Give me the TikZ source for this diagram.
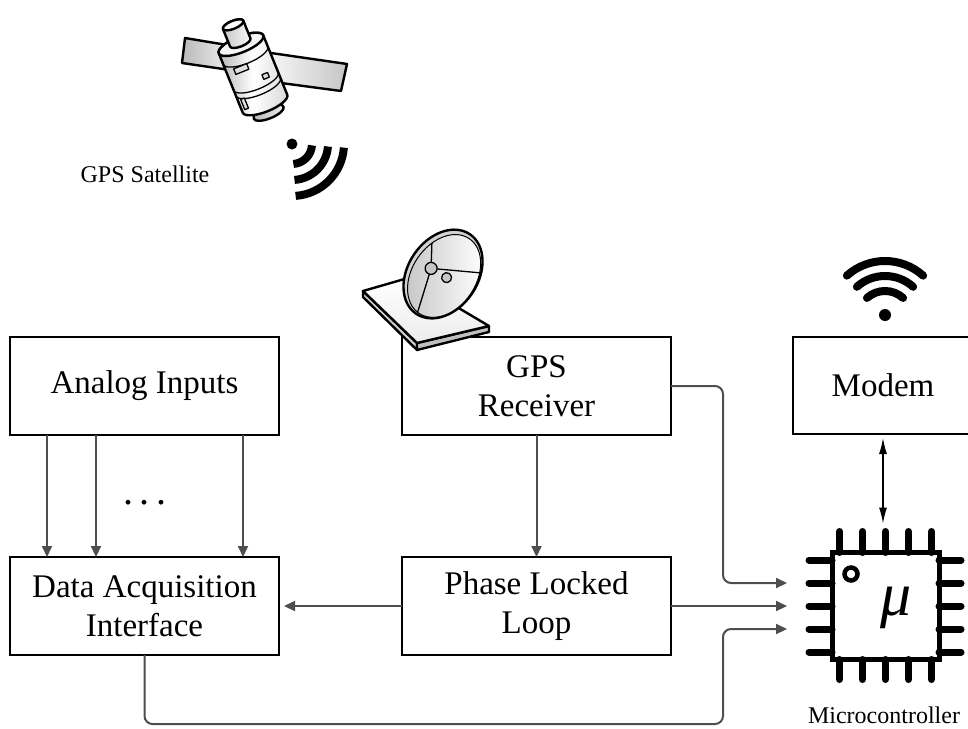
\documentclass[tikz,border=0pt]{standalone}
\usepackage{fontspec}
\setmainfont{Liberation Serif}
\usetikzlibrary{arrows.meta}
\definecolor{wirecol}{RGB}{78,78,78}
\begin{document}
\begin{tikzpicture}[x=1pt,y=-1pt,
  block/.style={draw=black, line width=2.4pt, minimum width=269pt, minimum height=98pt,
    align=center, inner sep=0pt, outer sep=0pt, font=\fontsize{33}{39.5}\selectfont},
  wire/.style={draw=wirecol, line width=2pt, -{Triangle[length=11pt,width=10pt]}},
  duplex/.style={draw=black, line width=1.3pt,
    {Latex[length=16pt,width=8pt]}-{Latex[length=16pt,width=8pt]}},
  pin/.style={line width=7pt, line cap=round},
  icon/.style={draw=black, line width=2.4pt, line join=round},
  thin icon/.style={draw=black, line width=1.3pt, line join=round},
  smalltext/.style={font=\fontsize{24}{28}\selectfont, inner sep=0pt}
]
\useasboundingbox (0,0) rectangle (968,728);
\clip (0,0) rectangle (968,728);

% ---------- blocks ----------
\node[block] (analog) at (144.5,386) {Analog Inputs};
\node[block] (daq) at (144.5,606) {Data Acquisition\\Interface};
\node[block] (gps) at (536.5,386) {GPS\\Receiver};
\node[block] (pll) at (536.5,606) {Phase Locked\\Loop};
\node[block, minimum width=180pt, minimum height=97pt] (modem) at (883,385.5) {Modem};

\node[font=\fontsize{40}{44}\selectfont, anchor=base, inner sep=0pt] (dots) at (144.5,504)
  {.\kern6.5pt.\kern6.5pt.};

% ---------- microcontroller chip ----------
\node[draw=black, line width=5pt, minimum size=107pt, inner sep=0pt, outer sep=0pt] (mcu) at (885.5,606) {};
\foreach \d in {-46,-23,0,23,46} {
  \draw[pin] ([xshift=\d pt]mcu.north) -- ++(0,-21);
  \draw[pin] ([xshift=\d pt]mcu.south) -- ++(0,20);
  \draw[pin] ([yshift=\d pt]mcu.west) -- ++(-23,0);
  \draw[pin] ([yshift=\d pt]mcu.east) -- ++(22,0);
}
\draw[line width=4.5pt] (851,574) circle[radius=6.5];
\node[inner sep=0pt] (mu) at (896,608) {\fontsize{62}{62}\selectfont\itshape μ};
\node[smalltext, anchor=base] (mculabel) at (884,723) {Microcontroller};

\coordinate (in1) at ([xshift=-45pt, yshift=23pt]mcu.west);
\coordinate (in2) at ([xshift=-45pt]mcu.west);
\coordinate (in3) at ([xshift=-45pt, yshift=-23pt]mcu.west);
\coordinate (pintop) at ([yshift=25pt]mcu.north);
\coordinate (rail) at (723,724);

% ---------- connectors ----------
\foreach \o in {37,86,233}
  \draw[wire] ([xshift=\o pt]analog.south west) -- ([xshift=\o pt]daq.north west);
\draw[wire] (gps.south) -- (pll.north);
\draw[wire, shorten >=5pt] (pll.west) -- (daq.east);
\draw[wire, rounded corners=8pt] (gps.east) -- ++(52,0) |- (in1);
\draw[wire] (pll.east) -- (in2);
\draw[wire, rounded corners=8pt] (daq.south) |- (rail) |- (in3);
\draw[duplex, shorten <=4pt, shorten >=4pt] (modem.south) -- (modem.south |- pintop);

% ---------- wifi symbol over the modem ----------
\fill (885,315) circle[radius=6];
\foreach \r in {27,42,57}
  \draw[line width=8pt, line cap=round] (885,318) ++(-132:\r) arc[start angle=-132, end angle=-48, radius=\r];

% ---------- satellite ----------
\draw[icon, left color=gray!55, right color=gray!10] (185,38) -- (233,46) -- (230,70) -- (182,63) -- cycle;
\draw[icon, left color=gray!5, right color=gray!45] (271,53) -- (347,64) -- (341,91) -- (266,81) -- cycle;
\begin{scope}[shift={(253,74)}, rotate=22]
  \draw[icon, left color=gray!55, right color=gray!15]
    (-12,30) -- (-16,42) arc[start angle=180, end angle=0, x radius=16, y radius=5.5] -- (12,30) -- cycle;
  \draw[icon, left color=gray!60, right color=gray!30, middle color=white]
    (-24,-32) -- (-24,32) arc[start angle=180, end angle=0, x radius=24, y radius=8]
    -- (24,-32) arc[start angle=0, end angle=-180, x radius=24, y radius=8] -- cycle;
  \draw[icon, fill=gray!8] (0,-32) ellipse[x radius=24, y radius=8];
  \draw[icon, left color=gray!45, right color=gray!5]
    (-11,-34) -- (-11,-53) arc[start angle=180, end angle=360, x radius=11, y radius=4]
    -- (11,-34) arc[start angle=0, end angle=180, x radius=11, y radius=4] -- cycle;
  \draw[icon, fill=gray!5] (0,-53) ellipse[x radius=11, y radius=4];
  \draw[thin icon] (-24,-20) arc[start angle=180, end angle=0, x radius=24, y radius=8];
  \draw[thin icon] (-24,8) arc[start angle=180, end angle=0, x radius=24, y radius=8];
  \draw[thin icon] (-24,14) arc[start angle=180, end angle=0, x radius=24, y radius=8];
  \draw[thin icon, fill=gray!25] (-16,-12) rectangle (-2,-6);
  \draw[thin icon, fill=gray!25] (8,4) rectangle (14,9);
  \draw[thin icon, fill=gray!25] (-21,19) rectangle (-17,30);
\end{scope}
\node[smalltext, anchor=base] (satlabel) at (145,182) {GPS Satellite};

% ---------- downlink signal ----------
\fill (292,144) circle[radius=5.5];
\foreach \r in {20,36,52}
  \draw[line width=8pt] (292,144) ++(4:\r) arc[start angle=4, end angle=86, radius=\r];

% ---------- dish antenna on the receiver ----------
\draw[icon, fill=gray!35] (363,291) -- (417,343) -- (417,350) -- (363,297) -- cycle;
\draw[icon, fill=gray!50] (417,343) -- (489,326) -- (489,332) -- (417,350) -- cycle;
\draw[icon, top color=white, bottom color=gray!15] (363,291) -- (408,278) -- (489,326) -- (417,343) -- cycle;
\begin{scope}[shift={(443,274)}, rotate=56]
  \draw[icon, fill=gray!35] (0,0) ellipse[x radius=48, y radius=35];
  \draw[line width=1pt, left color=gray!45, right color=white] (-1,2) ellipse[x radius=45, y radius=32];
  \coordinate (hub) at (-2,-13);
  \draw[thin icon] (hub) -- ({-1+45*cos(-63)}, {2+32*sin(-63)});
  \draw[thin icon] (hub) -- ({-1+45*cos(60)}, {2+32*sin(60)});
  \draw[thin icon] (hub) -- ({-1+45*cos(183)}, {2+32*sin(183)});
  \draw[thin icon, fill=gray!45] (hub) circle[radius=6];
  \draw[thin icon, fill=gray!45] (-1,5) circle[radius=5];
\end{scope}
\end{tikzpicture}
\end{document}
